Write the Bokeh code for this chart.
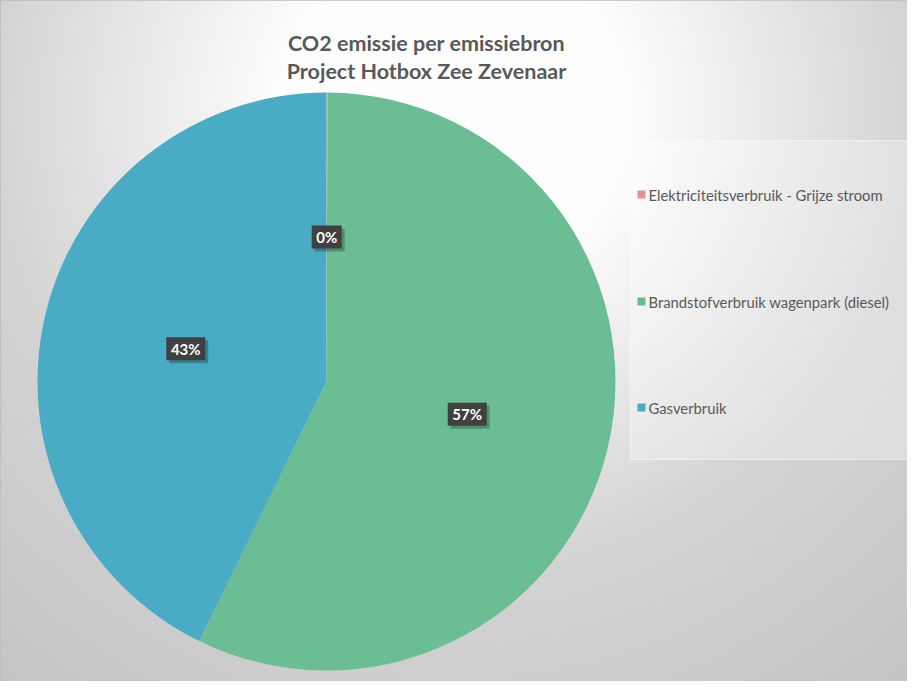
import numpy as np
from bokeh.plotting import figure
from bokeh.models import ColumnDataSource
from bokeh.core.properties import value
from bokeh.embed import file_html
from bokeh.resources import INLINE

# ---- data ----
categories = ["Elektriciteitsverbruik - Grijze stroom",
              "Brandstofverbruik wagenpark (diesel)",
              "Gasverbruik"]
shares = [0.05, 57.2, 42.75]
colors = ["#e39393", "#6bbe93", "#4aabc5"]
title_lines = ["CO2 emissie per emissiebron", "Project Hotbox Zee Zevenaar"]

W, H = 907, 681
p = figure(width=W, height=H, x_range=(0, W), y_range=(0, H),
           output_backend="svg", toolbar_location=None, min_border=0)
p.axis.visible = False
p.grid.visible = False
p.outline_line_color = "#bdbdbd"
p.outline_line_width = 2
p.background_fill_color = "#e0e0e0"
p.border_fill_color = "white"

# ---- radial gradient background (decoration) ----
gx, gy = np.meshgrid(np.arange(W), np.arange(H))
cx, cy = 452, H - 112
d = np.sqrt((gx - cx) ** 2 + (gy - cy) ** 2)
t1 = np.clip((d - 170) / 290.0, 0, 1)
t2 = np.clip((d - 460) / 270.0, 0, 1)
v = (254 - 42 * t1 - 15 * t2).astype(np.uint32)
img = (255 << 24) | (v << 16) | (v << 8) | v
p.image_rgba(image=[img.view(np.uint32)], x=0, y=0, dw=W, dh=H)

# ---- pie ----
PCX, PCY, R = 326, 300, 289
vals = np.array(shares, dtype=float)
frac = vals / vals.sum()
cum_after = np.cumsum(frac)
cum_before = cum_after - frac
start = np.pi / 2 - cum_after * 2 * np.pi
end = np.pi / 2 - cum_before * 2 * np.pi
src = ColumnDataSource(dict(start=start, end=end, color=colors, cat=categories))
p.wedge(x=PCX, y=PCY, radius=R, start_angle="start", end_angle="end",
        fill_color="color", line_color=None, source=src)

# ---- data labels ----
mid = (start + end) / 2
lx = PCX + 0.5 * R * np.cos(mid)
ly = PCY + 0.5 * R * np.sin(mid)
labels = [f"{round(f * 100):.0f}%" for f in frac]
bw = [12 + 9 * len(s) for s in labels]
lsrc = ColumnDataSource(dict(x=lx, y=ly, sx=lx + 3, sy=ly - 3, w=bw, t=labels))
p.rect(x="sx", y="sy", width="w", height=23, source=lsrc,
       fill_color="black", fill_alpha=0.25, line_color=None)
p.rect(x="x", y="y", width="w", height=23, source=lsrc,
       fill_color="#404040", line_color=None)
p.text(x="x", y="y", text="t", source=lsrc, text_color="white",
       text_font=value("Lato"), text_font_style="bold", text_font_size="15px",
       text_align="center", text_baseline="middle")

# ---- title ----
p.text(x=[426, 426], y=[H - 42, H - 70], text=title_lines, text_color="#595959",
       text_font=value("Lato"), text_font_style="bold", text_font_size="21.5px",
       text_align="center", text_baseline="middle")

# ---- legend ----
p.quad(left=630, right=W, top=H - 140, bottom=H - 459,
       fill_color="white", fill_alpha=0.3, line_color="white", line_alpha=0.5)
leg_y = [H - 194, H - 301, H - 407]
legsrc = ColumnDataSource(dict(x=[641] * 3, tx=[648] * 3, y=leg_y,
                               c=colors, t=categories))
p.rect(x="x", y="y", width=8, height=8, fill_color="c", line_color=None,
       source=legsrc)
p.text(x="tx", y="y", text="t", source=legsrc, text_color="#595959",
       text_font=value("Lato"), text_font_size="14.8px",
       text_align="left", text_baseline="middle")

open("out.html", "w").write(file_html(p, INLINE))
